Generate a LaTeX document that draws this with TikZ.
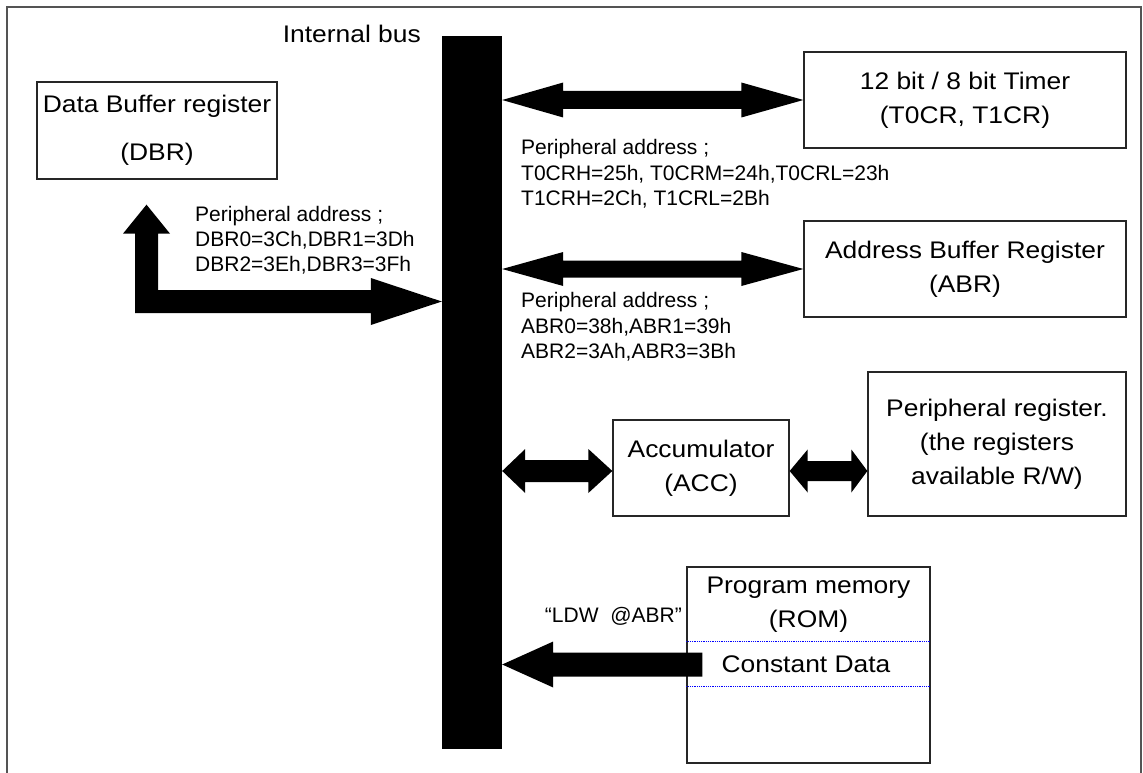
\documentclass[tikz,border=0pt]{standalone}
\usepackage{fontspec}
\setmainfont{Liberation Sans}
\newfontfamily\bigfont[FakeStretch=1.1]{Liberation Sans}
\usetikzlibrary{calc}
\newcommand\blockarrowLR[6]{%
  \fill (#1) -- ($(#1)+(#3,-#5)$) -- ($(#1)+(#3,-#6)$) -- ($(#2)+(-#4,-#6)$) -- ($(#2)+(-#4,-#5)$) -- (#2)
   -- ($(#2)+(-#4,#5)$) -- ($(#2)+(-#4,#6)$) -- ($(#1)+(#3,#6)$) -- ($(#1)+(#3,#5)$) -- cycle;}
\begin{document}
\begin{tikzpicture}[x=1pt,y=-1pt,
  box/.style={draw=black!85, line width=1.3pt, inner sep=0pt, align=center,
              font=\bigfont\fontsize{24}{34}\selectfont},
  lbl/.style={inner sep=0pt, anchor=base west, font=\fontsize{21}{25}\selectfont},
  big/.style={inner sep=0pt, font=\bigfont\fontsize{24}{34}\selectfont},
  dotline/.style={blue, densely dotted, line width=0.8pt}]
\useasboundingbox (0,0) rectangle (1143,773);
% frame
\draw[black!67, line width=2pt] (7,773) -- (7,7) -- (1141,7) -- (1141,773);
% bus
\node[fill=black, minimum width=60pt, minimum height=713pt, inner sep=0pt] (bus) at (472,392.5) {};
\node[big, anchor=base east] (ib) at (421,43) {Internal bus};
% boxes
\node[box, minimum width=240pt, minimum height=97pt] (dbr) at (157,130.5) {Data Buffer register\\[14pt](DBR)};
\node[box, minimum width=322pt, minimum height=96pt] (tim) at (965,100) {12 bit / 8 bit Timer\\(T0CR, T1CR)};
\node[box, minimum width=322pt, minimum height=96pt] (abr) at (965,269) {Address Buffer Register\\(ABR)};
\node[box, minimum width=176pt, minimum height=96pt] (acc) at (701,468) {Accumulator\\(ACC)};
\node[box, minimum width=258pt, minimum height=144pt] (per) at (997,444) {Peripheral register.\\(the registers\\available R/W)};
\node[draw=black!85, line width=1.3pt, minimum width=243pt, minimum height=196pt, inner sep=0pt] (rom) at (808.5,665) {};
\draw[dotline] ($(rom.north west)+(0,75)$) -- ($(rom.north east)+(0,75)$);
\draw[dotline] ($(rom.north west)+(0,120)$) -- ($(rom.north east)+(0,120)$);
\node[big, align=center] (romt) at (808.5,605) {Program memory\\(ROM)};
\node[big] (cdata) at (806,664.5) {Constant Data};
% labels
\node[lbl] (d1) at (195,221) {Peripheral address ;};
\node[lbl] (d2) at (195,246) {DBR0=3Ch,DBR1=3Dh};
\node[lbl] (d3) at (195,271) {DBR2=3Eh,DBR3=3Fh};
\node[lbl] (t1) at (521,154) {Peripheral address ;};
\node[lbl] (t2) at (521,180) {T0CRH=25h, T0CRM=24h,T0CRL=23h};
\node[lbl] (t3) at (521,205) {T1CRH=2Ch, T1CRL=2Bh};
\node[lbl] (a1) at (521,307) {Peripheral address ;};
\node[lbl] (a2) at (521,333) {ABR0=38h,ABR1=39h};
\node[lbl] (a3) at (521,358) {ABR2=3Ah,ABR3=3Bh};
\node[lbl, anchor=base east] (ldw) at (682,622) {“LDW\ \ @ABR”};
% arrows
\coordinate (tL) at (bus.east |- tim.west);
\blockarrowLR{tL}{tim.west}{61}{62}{17.5}{9}
\coordinate (aL) at (bus.east |- abr.west);
\blockarrowLR{aL}{abr.west}{61}{62}{17}{8.5}
\coordinate (cR) at ($(acc.west)+(0,3)$);
\coordinate (cL) at (bus.east |- cR);
\blockarrowLR{cL}{cR}{23}{24}{22}{11}
\coordinate (pL) at ($(acc.east)+(0,3)$);
\coordinate (pR) at (per.west |- pL);
\blockarrowLR{pL}{pR}{18}{16}{21.5}{10}
% ROM arrow
\coordinate (rT) at (bus.east |- cdata.center);
\coordinate (rE) at ($(rom.west |- cdata.center)+(16,0)$);
\fill (rT) -- ($(rT)+(51,-23)$) -- ($(rT)+(51,-12)$) -- ($(rE)+(0,-12)$) -- ($(rE)+(0,12)$)
  -- ($(rT)+(51,12)$) -- ($(rT)+(51,23)$) -- cycle;
% DBR arrow
\coordinate (dT) at ($(dbr.south)+(-10.5,25)$);
\coordinate (dR) at ($(bus.west)+(0,-91)$);
\coordinate (dC) at (dT |- dR);
\fill (dT) -- ($(dT)+(23.5,29)$) -- ($(dT)+(11.5,29)$) -- ($(dC)+(11.5,-11.5)$) -- ($(dR)+(-71,-11.5)$)
  -- ($(dR)+(-71,-23.5)$) -- (dR) -- ($(dR)+(-71,23.5)$) -- ($(dR)+(-71,11.5)$) -- ($(dC)+(-11.5,11.5)$)
  -- ($(dT)+(-11.5,29)$) -- ($(dT)+(-23.5,29)$) -- cycle;
\end{tikzpicture}
\end{document}
